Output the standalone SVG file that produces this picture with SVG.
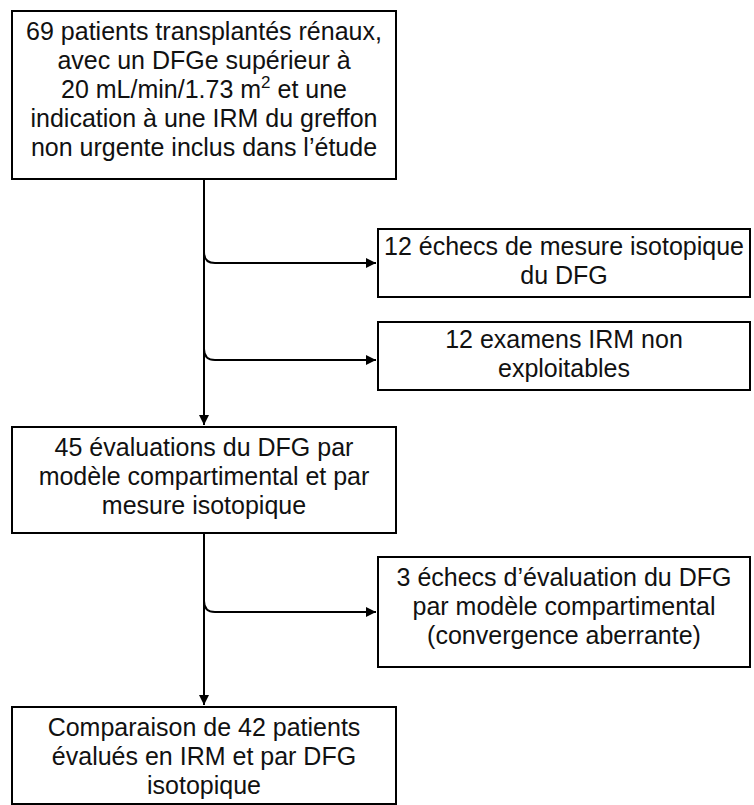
<svg xmlns="http://www.w3.org/2000/svg" width="754" height="805" viewBox="0 0 754 805">
<defs>
<marker id="ah" viewBox="0 0 10 10" refX="10" refY="5" markerWidth="5" markerHeight="5" orient="auto" markerUnits="strokeWidth">
<path d="M0,0 L10,5 L0,10 z" fill="#000"/>
</marker>
<style>
rect{fill:#fff;stroke:#000;stroke-width:2}
text{font-family:"Liberation Sans","DejaVu Sans",sans-serif;font-size:25px;fill:#111;text-anchor:middle}
.c{fill:none;stroke:#000;stroke-width:2}
</style>
</defs>
<rect x="0" y="0" width="754" height="805" style="stroke:none"/>
<g id="connectors">
<path class="c" d="M204,179 V425" marker-end="url(#ah)"/>
<path class="c" d="M204,252 Q204,263 215,263 H376" marker-end="url(#ah)"/>
<path class="c" d="M204,349 Q204,360 215,360 H376" marker-end="url(#ah)"/>
<path class="c" d="M204,533 V705" marker-end="url(#ah)"/>
<path class="c" d="M204,601 Q204,612 215,612 H376" marker-end="url(#ah)"/>
</g>
<g id="n1">
<rect x="12" y="11" width="384" height="168"/>
<text x="204" y="40">69 patients transplantés rénaux,</text>
<text x="204" y="69">avec un DFGe supérieur à</text>
<text x="204" y="98">20 mL/min/1.73 m<tspan font-size="17" dy="-10">2</tspan><tspan dy="10"> et une</tspan></text>
<text x="204" y="127">indication à une IRM du greffon</text>
<text x="204" y="156">non urgente inclus dans l’étude</text>
</g>
<g id="n2">
<rect x="378" y="229" width="372" height="68"/>
<text x="564" y="255">12 échecs de mesure isotopique</text>
<text x="564" y="284">du DFG</text>
</g>
<g id="n3">
<rect x="378" y="322" width="372" height="68"/>
<text x="564" y="348">12 examens IRM non</text>
<text x="564" y="377">exploitables</text>
</g>
<g id="n4">
<rect x="12" y="427" width="384" height="106"/>
<text x="204" y="456">45 évaluations du DFG par</text>
<text x="204" y="485">modèle compartimental et par</text>
<text x="204" y="514">mesure isotopique</text>
</g>
<g id="n5">
<rect x="378" y="557" width="372" height="110"/>
<text x="564" y="586">3 échecs d’évaluation du DFG</text>
<text x="564" y="615">par modèle compartimental</text>
<text x="564" y="644">(convergence aberrante)</text>
</g>
<g id="n6">
<rect x="12" y="707" width="384" height="97"/>
<text x="204" y="736">Comparaison de 42 patients</text>
<text x="204" y="765">évalués en IRM et par DFG</text>
<text x="204" y="794">isotopique</text>
</g>
</svg>
